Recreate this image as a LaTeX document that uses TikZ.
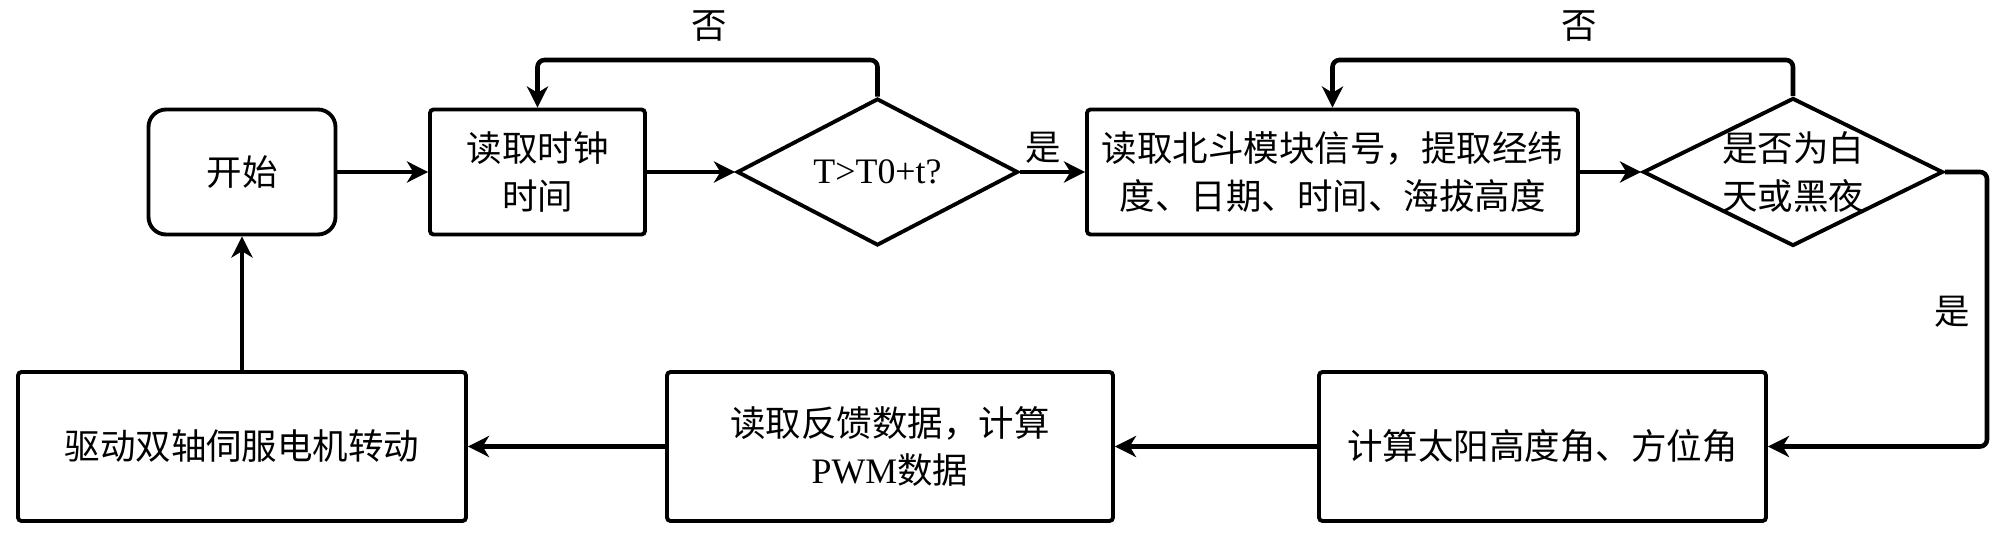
\documentclass[tikz,border=0pt]{standalone}
\usepackage{fontspec}
\setmainfont{Noto Sans CJK SC}
\newfontfamily\latinfont{Liberation Serif}
\usepackage{tikz}
\usetikzlibrary{shapes.geometric,arrows.meta}
\tikzstyle{procbox} = [draw=black, line width=1.1pt, rectangle,
    rounded corners=1pt, inner sep=0pt, align=center,
    font=\fontsize{10.1}{13.5}\selectfont]
\tikzstyle{startbox} = [procbox, rounded corners=5pt]
\tikzstyle{judgebox} = [draw=black, line width=1.1pt, diamond, aspect=2,
    inner sep=-3pt, align=center, font=\fontsize{10.1}{13.5}\selectfont]
\tikzstyle{flowline} = [line width=1.3pt, rounded corners=2pt,
    -{Stealth[length=6pt,width=6pt,inset=1.8pt]}]
\tikzstyle{flowlabel} = [font=\fontsize{10.1}{13.5}\selectfont, inner sep=0pt]

\begin{document}
\begin{tikzpicture}
    \useasboundingbox (0,0) rectangle (20,5.54);
    % upper row
    \node [startbox, minimum width=1.87cm, minimum height=1.25cm] (start) at (2.42,3.82) {开始};
    \node [procbox, minimum width=2.15cm, minimum height=1.25cm] (clock) at (5.375,3.82) {读取时钟\\时间};
    \node [judgebox, minimum width=2.81cm, minimum height=1.47cm] (judge1) at (8.775,3.82) {\latinfont\fontsize{10.2}{12}\selectfont T>T0+t?};
    \node [procbox, minimum width=4.91cm, minimum height=1.25cm] (beidou) at (13.325,3.82) {读取北斗模块信号，提取经纬\\度、日期、时间、海拔高度};
    \node [judgebox, minimum width=3.0cm, minimum height=1.48cm] (judge2) at (17.93,3.82) {是否为白\\天或黑夜};
    % lower row
    \node [procbox, minimum width=4.47cm, minimum height=1.49cm] (calc) at (15.425,1.075) {计算太阳高度角、方位角};
    \node [procbox, minimum width=4.46cm, minimum height=1.49cm] (pwm) at (8.9,1.075) {读取反馈数据，计算\\{\latinfont\fontsize{10.2}{12}\selectfont PWM}数据};
    \node [procbox, minimum width=4.48cm, minimum height=1.49cm] (drive) at (2.42,1.075) {驱动双轴伺服电机转动};
    \coordinate (looptop) at (0,4.94);
    \coordinate (rightside) at (19.87,0);
    % connectors
    \draw [flowline] (start) -- (clock);
    \draw [flowline] (clock) -- (judge1);
    \draw [flowline] (judge1) -- (beidou);
    \draw [flowline] (beidou) -- (judge2);
    \draw [flowline] (judge1.north) -- (judge1.north |- looptop) -| (clock.north);
    \draw [flowline] (judge2.north) -- (judge2.north |- looptop) -| (beidou.north);
    \draw [flowline] (judge2.east) -- (judge2.east -| rightside) |- (calc.east);
    \draw [flowline] (calc) -- (pwm);
    \draw [flowline] (pwm) -- (drive);
    \draw [flowline] (drive) -- (start);
    % labels
    \node [flowlabel] (no1) at (7.09,5.28) {否};
    \node [flowlabel] (no2) at (15.79,5.28) {否};
    \node [flowlabel] (yes1) at (10.43,4.06) {是};
    \node [flowlabel] (yes2) at (19.52,2.42) {是};
\end{tikzpicture}
\end{document}
